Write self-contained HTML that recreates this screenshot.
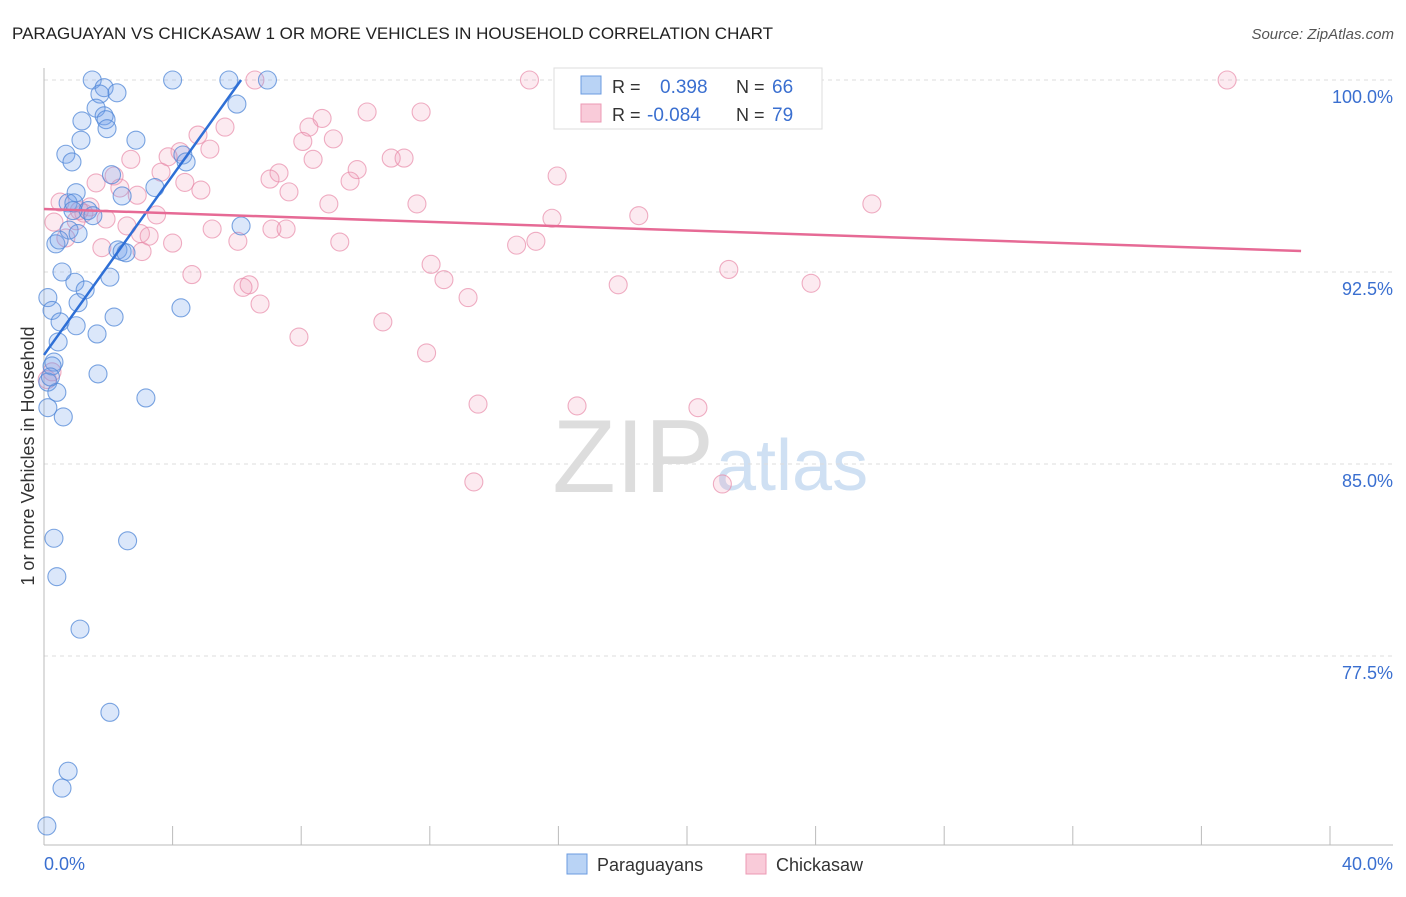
<!DOCTYPE html>
<html><head><meta charset="utf-8"><style>
body{margin:0;background:#fff;font-family:"Liberation Sans",sans-serif;}
svg text{font-family:"Liberation Sans",sans-serif;}
</style></head><body>
<svg id="chart" width="1406" height="892" viewBox="0 0 1406 892" xmlns="http://www.w3.org/2000/svg">
<text x="12" y="39" font-size="17" fill="#222">PARAGUAYAN VS CHICKASAW 1 OR MORE VEHICLES IN HOUSEHOLD CORRELATION CHART</text>
<text x="1394" y="39" font-size="15" fill="#555" font-style="italic" text-anchor="end">Source: ZipAtlas.com</text>
<text x="34" y="456" font-size="18" fill="#333" text-anchor="middle" transform="rotate(-90 34 456)">1 or more Vehicles in Household</text>
<text x="714" y="492" font-size="104" fill="#ddd" text-anchor="end" font-family="Liberation Serif">ZIP</text>
<text x="716" y="490" font-size="72" fill="#cfe0f3">atlas</text>
<g id="grid"></g>
<g id="axes"></g>
<g id="pinkPts"></g>
<g id="bluePts"></g>
<g id="lines"></g>
<g>
<rect x="554" y="68" width="268" height="61" fill="#fff" stroke="#ddd"/>
<rect x="581" y="76" width="20" height="18" fill="#b9d3f5" stroke="#6b9be0"/>
<rect x="581" y="104" width="20" height="18" fill="#f9cbd9" stroke="#ec9ab4"/>
<text x="612" y="93" font-size="18" fill="#333">R = </text><text x="660" y="93" font-size="19" fill="#3a6fd0">0.398</text>
<text x="736" y="93" font-size="18" fill="#333">N = </text><text x="772" y="93" font-size="19" fill="#3a6fd0">66</text>
<text x="612" y="121" font-size="18" fill="#333">R = </text><text x="647" y="121" font-size="19" fill="#3a6fd0">-0.084</text>
<text x="736" y="121" font-size="18" fill="#333">N = </text><text x="772" y="121" font-size="19" fill="#3a6fd0">79</text>
</g>
<g>
<rect x="567" y="854" width="20" height="20" fill="#b9d3f5" stroke="#6b9be0"/>
<text x="597" y="871" font-size="18" fill="#333">Paraguayans</text>
<rect x="746" y="854" width="20" height="20" fill="#f9cbd9" stroke="#ec9ab4"/>
<text x="776" y="871" font-size="18" fill="#333">Chickasaw</text>
</g>
</svg>
<script>
const yTicks=[100,92.5,85,77.5];
const yTickLabels=["100.0%","92.5%","85.0%","77.5%"];
const xTickLabels=["0.0%","40.0%"];
const blueX=[1.5,4.0,5.75,6.95,1.87,2.27,1.74,6.0,1.62,1.87,1.93,1.18,1.96,2.86,1.15,0.68,4.32,0.87,4.42,2.1,3.45,1.0,2.43,0.75,0.93,1.37,1.52,6.13,0.78,1.06,0.37,0.47,2.3,2.43,2.55,0.56,2.05,0.96,0.12,1.28,1.06,0.25,4.26,2.18,0.5,1.0,1.65,0.44,0.31,0.25,1.68,0.12,0.4,3.17,0.12,0.6,0.31,2.6,0.4,1.12,2.05,0.75,0.56,0.09,0.2,0.9];
const blueY=[100,100,100,100,99.7,99.5,99.45,99.06,98.9,98.6,98.45,98.4,98.1,97.65,97.65,97.1,97.07,96.8,96.8,96.3,95.8,95.6,95.47,95.2,95.2,94.9,94.7,94.3,94.14,94.0,93.6,93.75,93.36,93.3,93.25,92.5,92.3,92.1,91.5,91.8,91.3,91.0,91.1,90.74,90.55,90.4,90.08,89.77,88.98,88.83,88.52,88.2,87.8,87.58,87.2,86.84,82.1,82.0,80.6,78.55,75.3,73.0,72.34,70.86,88.4,94.9];
const pinkX=[6.56,15.1,18.3,36.8,10.05,11.73,8.65,8.24,5.63,4.79,8.05,9.0,5.16,4.23,3.86,2.7,10.8,11.2,8.37,9.74,3.64,7.31,2.18,7.03,9.52,15.96,1.62,4.38,2.36,4.88,7.62,0.5,8.86,11.6,25.75,1.43,1.24,3.5,15.8,18.5,1.93,0.31,1.0,2.58,5.23,7.09,7.53,3.0,3.27,0.68,6.03,4.0,9.2,15.3,14.7,1.8,3.05,12.04,21.3,4.6,12.44,6.38,6.19,17.86,23.86,13.19,6.72,10.54,7.93,11.9,0.25,13.5,16.58,20.34,13.37,21.1,0.1,1.1,2.9];
const pinkY=[100,100,100,100,98.75,98.75,98.5,98.16,98.16,97.85,97.6,97.7,97.3,97.2,97.0,96.9,96.95,96.95,96.9,96.5,96.4,96.37,96.25,96.13,96.05,96.25,95.98,96.0,95.78,95.7,95.63,95.23,95.16,95.16,95.16,95.04,94.8,94.73,94.6,94.7,94.57,94.45,94.5,94.3,94.18,94.18,94.18,94.0,93.9,93.83,93.7,93.63,93.67,93.7,93.55,93.45,93.3,92.8,92.6,92.4,92.2,92.0,91.9,92.0,92.06,91.5,91.25,90.55,89.96,89.34,88.6,87.34,87.27,87.2,84.3,84.22,88.3,94.9,95.5];
const blueLine=[[0,89.26],[6.13,100]];
const pinkLine=[[0,94.96],[39.1,93.32]];
const X0=44,X1=1330,YT=80,PPY=192/7.5;
const sx=v=>X0+(X1-X0)*v/40;
const sy=v=>YT+(100-v)*PPY;
const NS="http://www.w3.org/2000/svg";
function mk(tag,attrs,parent){const e=document.createElementNS(NS,tag);for(const k in attrs)e.setAttribute(k,attrs[k]);parent.appendChild(e);return e;}
const grid=document.getElementById('grid'),axes=document.getElementById('axes');
yTicks.forEach((t,i)=>{
  const l=mk('line',{x1:X0,x2:1393,y1:sy(t),y2:sy(t),stroke:'#ddd','stroke-dasharray':'4,4'},grid);
  
  
  const tx=mk('text',{x:1393,y:sy(t)+23,'font-size':18,fill:'#3a6fd0','text-anchor':'end'},axes);
  tx.textContent=yTickLabels[i];
  
  
});
const ay=mk('line',{x1:X0,x2:X0,y1:68,y2:845,stroke:'#bbb'},axes);


const ax=mk('line',{x1:X0,x2:1393,y1:845,y2:845,stroke:'#bbb'},axes);


for(let v=0;v<=40;v+=4){
  const t=mk('line',{x1:sx(v),x2:sx(v),y1:826,y2:845,stroke:'#bbb'},axes);
  
  
}
[[0,'start',44],[40,'end',1393]].forEach((d,i)=>{
  const t=mk('text',{x:d[2],y:870,'font-size':18,fill:'#3a6fd0','text-anchor':d[1]},axes);
  t.textContent=xTickLabels[i];
  
  
});
const pg=document.getElementById('pinkPts');
pinkX.forEach((x,i)=>{
  const c=mk('circle',{cx:sx(x),cy:sy(pinkY[i]),r:9,fill:'rgba(240,150,180,0.2)',stroke:'rgba(232,140,170,0.7)','stroke-width':1.1},pg);
  
  
});
const bg=document.getElementById('bluePts');
blueX.forEach((x,i)=>{
  const c=mk('circle',{cx:sx(x),cy:sy(blueY[i]),r:9,fill:'rgba(110,160,235,0.25)',stroke:'rgba(80,135,215,0.75)','stroke-width':1.1},bg);
  
  
});
const lg=document.getElementById('lines');
const bl=mk('line',{x1:sx(blueLine[0][0]),y1:sy(blueLine[0][1]),x2:sx(blueLine[1][0]),y2:sy(blueLine[1][1]),stroke:'#2e6fd6','stroke-width':2.5},lg);


const pl=mk('line',{x1:sx(pinkLine[0][0]),y1:sy(pinkLine[0][1]),x2:sx(pinkLine[1][0]),y2:sy(pinkLine[1][1]),stroke:'#e66a95','stroke-width':2.5},lg);


</script>
</body></html>
